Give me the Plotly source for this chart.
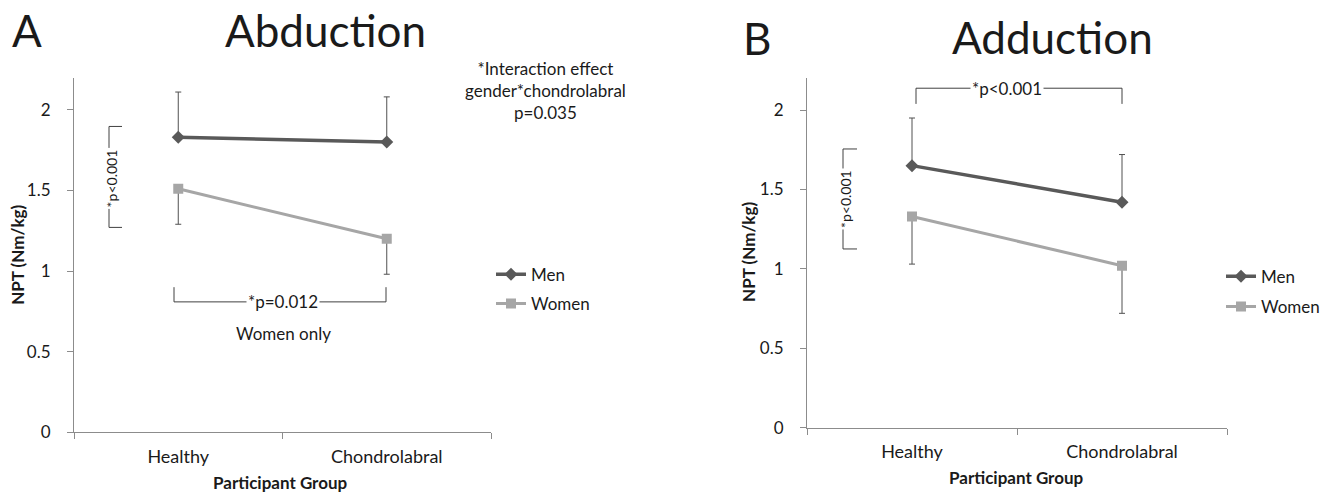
import plotly.graph_objects as go

W, H = 1327, 504

groups = ["Healthy", "Chondrolabral"]
abd_men = [1.83, 1.80]
abd_men_sd = [0.28, 0.28]
abd_women = [1.51, 1.20]
abd_women_sd = [0.22, 0.22]
add_men = [1.65, 1.42]
add_men_sd = [0.30, 0.30]
add_women = [1.33, 1.02]
add_women_sd = [0.30, 0.30]
yticks = [0, 0.5, 1, 1.5, 2]

MEN_C = "#595959"
WOMEN_C = "#A6A6A6"
ERR_C = "#505050"
AX_C = "#8C8C8C"
TXT_C = "#1a1a1a"
FONT = "Lato"


def px(x):
    return x / W


def py(y):
    return 1 - y / H


fig = go.Figure()


def add_pair(xa, ya, men, men_sd, women, women_sd, legend):
    fig.add_trace(go.Scatter(
        x=groups, y=men, name="Men", xaxis=xa, yaxis=ya, legend=legend,
        legendgroup=legend + "m",
        mode="lines+markers",
        line=dict(color=MEN_C, width=3.5),
        marker=dict(symbol="diamond", size=10, color=MEN_C),
        error_y=dict(type="data", array=men_sd, arrayminus=[0] * len(men_sd),
                     color=ERR_C, thickness=1, width=3),
    ))
    fig.add_trace(go.Scatter(
        x=groups, y=women, name="Women", xaxis=xa, yaxis=ya, legend=legend,
        legendgroup=legend + "w",
        mode="lines+markers",
        line=dict(color=WOMEN_C, width=3),
        marker=dict(symbol="square", size=10, color=WOMEN_C),
        error_y=dict(type="data", array=[0] * len(women_sd), arrayminus=women_sd,
                     color=ERR_C, thickness=1, width=3),
    ))


add_pair("x", "y", abd_men, abd_men_sd, abd_women, abd_women_sd, "legend")
add_pair("x2", "y2", add_men, add_men_sd, add_women, add_women_sd, "legend2")

axis_common_x = dict(
    type="category", range=[-0.5, 1.5], showgrid=False, zeroline=False,
    showline=True, linecolor=AX_C, linewidth=1,
    ticks="outside", tickson="boundaries", ticklen=6, tickcolor=AX_C,
    tickfont=dict(family=FONT, size=18, color=TXT_C),
    ticklabelstandoff=8,
)
axis_common_y = dict(
    range=[0, 2.2], tickvals=yticks, showgrid=False, zeroline=False,
    showline=True, linecolor=AX_C, linewidth=1,
    ticks="outside", ticklen=6, tickcolor=AX_C,
    tickfont=dict(family=FONT, size=17, color=TXT_C),
    ticklabelstandoff=13,
)

fig.update_layout(
    width=W, height=H,
    margin=dict(l=0, r=0, t=0, b=0),
    paper_bgcolor="white", plot_bgcolor="white",
    font=dict(family=FONT, color=TXT_C),
    xaxis=dict(domain=[px(74), px(491)], anchor="y", **axis_common_x),
    yaxis=dict(domain=[py(441), py(79.1)], anchor="x", **axis_common_y),
    xaxis2=dict(domain=[px(807), px(1227)], anchor="y2", **axis_common_x),
    yaxis2=dict(domain=[py(436.3), py(79.9)], anchor="x2", **axis_common_y),
    legend=dict(x=px(491), y=py(262), xanchor="left", yanchor="top",
                font=dict(family=FONT, size=17, color=TXT_C),
                itemwidth=30, tracegroupgap=4, bgcolor="rgba(0,0,0,0)"),
    legend2=dict(x=px(1221), y=py(264), xanchor="left", yanchor="top",
                 font=dict(family=FONT, size=17, color=TXT_C),
                 itemwidth=30, tracegroupgap=5, bgcolor="rgba(0,0,0,0)"),
    showlegend=True,
)

LINE = dict(color="#404040", width=1)
shapes = []


def seg(x0, y0, x1, y1):
    shapes.append(dict(type="line", xref="paper", yref="paper",
                       x0=px(x0), y0=py(y0), x1=px(x1), y1=py(y1), line=LINE))


# Panel A vertical bracket
seg(109, 129, 109, 232)
seg(109, 129, 122, 129)
seg(109, 232, 122, 232)
# Panel A horizontal bracket
seg(174, 308, 386, 308)
seg(174, 293, 174, 308)
seg(386, 293, 386, 308)
# Panel B horizontal bracket
seg(916, 90, 1122, 90)
seg(916, 90, 916, 106)
seg(1122, 90, 1122, 106)
# Panel B vertical bracket
seg(843, 152, 843, 254)
seg(843, 152, 857, 152)
seg(843, 254, 857, 254)

fig.update_layout(shapes=shapes)

ann = []


def text(x, y, s, size, bold=False, angle=0, bg=None):
    d = dict(xref="paper", yref="paper", x=px(x), y=py(y), text=("<b>%s</b>" % s) if bold else s,
             showarrow=False, xanchor="center", yanchor="middle", textangle=angle,
             font=dict(family=FONT, size=size, color=TXT_C))
    if bg:
        d["bgcolor"] = bg
        d["borderpad"] = 1
    ann.append(d)


text(27, 31, "A", 44)
text(325, 31, "Abduction", 44)
text(757, 39, "B", 44)
text(1052, 38, "Adduction", 44)
text(545, 92, "*Interaction effect<br>gender*chondrolabral<br>p=0.035", 17)
text(111, 182, "*p<0.001", 14, angle=-90, bg="white")
text(283, 308, "*p=0.012", 17, bg="white")
text(283, 340, "Women only", 17)
text(1007, 90, "*p<0.001", 17, bg="white")
text(846, 203, "*p<0.001", 14, angle=-90, bg="white")
text(18, 260, "NPT (Nm/kg)", 17, bold=True, angle=-90)
text(749, 257, "NPT (Nm/kg)", 17, bold=True, angle=-90)
text(280, 492, "Participant Group", 17, bold=True)
text(1016, 487, "Participant Group", 17, bold=True)

fig.update_layout(annotations=ann)

fig.write_html("out.html")
